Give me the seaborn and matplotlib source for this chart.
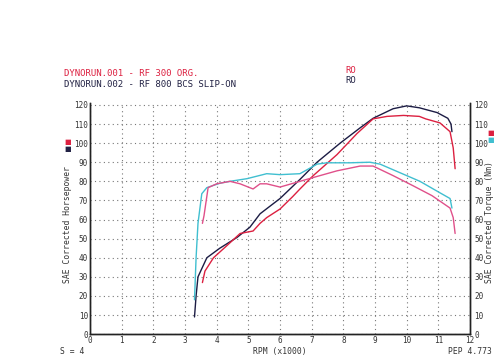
import matplotlib
matplotlib.use("Agg")
import matplotlib.pyplot as plt
import pandas as pd
import seaborn as sns

# run 001 - RF 300 ORG. (red / pink)
rpm_hp_001 = [3.55, 3.63, 3.9, 4.3, 4.74, 5.15, 5.37, 5.58, 6.0, 6.4, 6.63, 7.05, 7.8, 8.43, 8.94, 9.38, 9.9,
              10.4, 10.6, 11.05, 11.37, 11.47, 11.53]
hp_001 = [27, 33, 40, 46, 52.7, 54, 58, 61, 65.5, 72, 76, 83, 94, 105, 112.7, 114, 114.5,
          114, 112.7, 110.6, 106, 97.5, 86.6]
rpm_tq_001 = [3.55, 3.6, 3.73, 4.0, 4.42, 4.74, 5.15, 5.37, 5.58, 6.0, 6.63, 7.05, 7.8, 8.53, 8.94,
              9.57, 10.2, 10.8, 11.37, 11.47, 11.53]
tq_001 = [58, 62, 76.7, 78.7, 80, 78.7, 76, 78.7, 78.7, 77, 80, 82, 85.5, 88, 88,
          83, 77.7, 72.5, 66, 61, 52.7]

# run 002 - RF 800 BCS SLIP-ON (navy / cyan)
rpm_hp_002 = [3.3, 3.35, 3.41, 3.69, 4.1, 4.64, 5.05, 5.37, 6.0, 6.63, 7.17, 7.9, 8.53, 8.94, 9.57,
              10.0, 10.4, 10.96, 11.3, 11.4, 11.43]
hp_002 = [9, 20, 30, 40, 45, 50.6, 56, 63, 71, 81, 90, 100, 108, 113, 118,
          119.5, 118.5, 116, 113, 110, 106]
rpm_tq_002 = [3.3, 3.35, 3.41, 3.53, 3.69, 4.1, 4.42, 4.96, 5.58, 6.0, 6.63, 7.17, 7.48, 8.2, 8.84,
              9.16, 9.79, 10.42, 11.05, 11.37, 11.43]
tq_002 = [18, 40, 58, 73.5, 76.7, 79, 80, 81.4, 84, 83.5, 84, 89, 89.7, 89.7, 90,
          89, 84.5, 80, 74, 71, 66]

x_ticks = list(range(0, 13))
y_ticks = list(range(0, 121, 10))

sns.set_theme(style="white")
plt.rcParams['font.family'] = ['DejaVu Sans Mono', 'DejaVu Sans']

fig = plt.figure(figsize=(5, 3.64), dpi=100)
ax = fig.add_axes([0.18, 0.082, 0.76, 0.635])
ax2 = ax.twinx()

df_hp1 = pd.DataFrame({"rpm": rpm_hp_001, "val": hp_001})
df_hp2 = pd.DataFrame({"rpm": rpm_hp_002, "val": hp_002})
df_tq1 = pd.DataFrame({"rpm": rpm_tq_001, "val": tq_001})
df_tq2 = pd.DataFrame({"rpm": rpm_tq_002, "val": tq_002})

sns.lineplot(data=df_hp2, x="rpm", y="val", ax=ax, color="#1c1c44", lw=1.0, sort=False)
sns.lineplot(data=df_hp1, x="rpm", y="val", ax=ax, color="#dc2040", lw=1.0, sort=False)
sns.lineplot(data=df_tq2, x="rpm", y="val", ax=ax2, color="#40bfd0", lw=1.0, sort=False)
sns.lineplot(data=df_tq1, x="rpm", y="val", ax=ax2, color="#e0508a", lw=1.0, sort=False)

for a in (ax, ax2):
    a.set_xlim(0, 12)
    a.set_ylim(0, 121)
    a.set_yticks(y_ticks)
    a.set_xlabel("")
    a.set_ylabel("")
    a.spines["top"].set_visible(False)
    for s in ("left", "right", "bottom"):
        a.spines[s].set_color("#222222")
        a.spines[s].set_linewidth(1.0)
    a.tick_params(length=0, labelsize=5.5, colors="#333333", pad=1.5)
ax2.tick_params(axis="y", pad=3)

ax.set_xticks(x_ticks)
ax.grid(True, color="#777777", linestyle=(0, (1, 3)), linewidth=0.8)
ax.set_axisbelow(True)

txt = "#333333"
fig.text(0.56, 0.034, "RPM (x1000)", fontsize=5.8, color=txt, ha="center", va="center")
fig.text(0.134, 0.382, "SAE Corrected Horsepower", fontsize=5.8, color=txt,
         rotation=90, ha="center", va="center")
fig.text(0.978, 0.39, "SAE Corrected Torque (Nm)", fontsize=5.8, color=txt,
         rotation=90, ha="center", va="center")

fig.text(0.128, 0.79, "DYNORUN.001 - RF 300 ORG.", color="#dc2040", fontsize=6.5)
fig.text(0.128, 0.762, "DYNORUN.002 - RF 800 BCS SLIP-ON", color="#222244", fontsize=6.5)
fig.text(0.69, 0.80, "RO", color="#dc2040", fontsize=6.5)
fig.text(0.69, 0.772, "RO", color="#222244", fontsize=6.5)

fig.text(0.128, 0.605, "■", color="#dc2040", fontsize=5, family="DejaVu Sans")
fig.text(0.128, 0.585, "■", color="#222244", fontsize=5, family="DejaVu Sans")
fig.text(0.975, 0.63, "■", color="#dc2040", fontsize=5, family="DejaVu Sans")
fig.text(0.975, 0.61, "■", color="#40bfd0", fontsize=5, family="DejaVu Sans")

fig.text(0.12, 0.034, "S = 4", color=txt, fontsize=5.8, va="center")
fig.text(0.896, 0.034, "PEP 4.773", color=txt, fontsize=5.8, va="center")

fig.savefig("out.png", dpi=100, facecolor="white")
